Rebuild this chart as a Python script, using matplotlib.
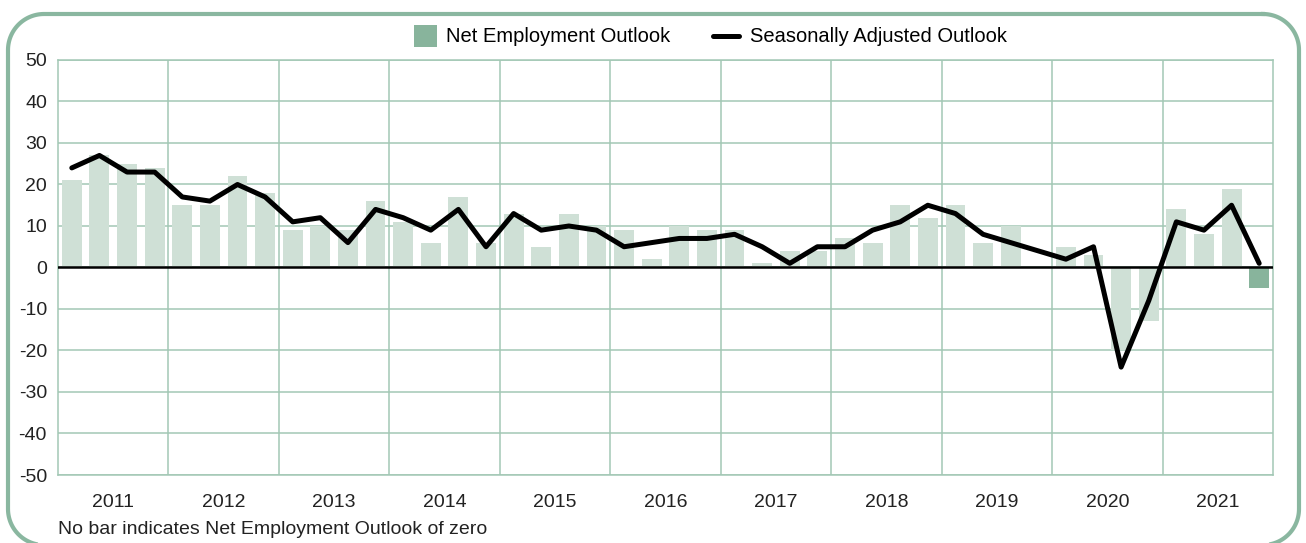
import matplotlib
matplotlib.use("Agg")
import matplotlib.pyplot as plt
from matplotlib.patches import Rectangle
from matplotlib.lines import Line2D
import numpy as np

plt.rcParams['font.family'] = ['Liberation Sans', 'DejaVu Sans']

years = ['2011', '2012', '2013', '2014', '2015', '2016', '2017', '2018', '2019', '2020', '2021']
net_outlook = [21, 27, 25, 24, 15, 15, 22, 18, 9, 10, 9, 16,
               11, 6, 17, 6, 13, 5, 13, 10, 9, 2, 10, 9,
               9, 1, 4, 4, 7, 6, 15, 12, 15, 6, 10, 0,
               5, 3, -20, -13, 14, 8, 19, -5]
seasonal = [24, 27, 23, 23, 17, 16, 20, 17, 11, 12, 6, 14,
            12, 9, 14, 5, 13, 9, 10, 9, 5, 6, 7, 7,
            8, 5, 1, 5, 5, 9, 11, 15, 13, 8, 6, 4,
            2, 5, -24, -8, 11, 9, 15, 1]
y_ticks = [50, 40, 30, 20, 10, 0, -10, -20, -30, -40, -50]

LIGHT = '#cfe0d6'
DARK = '#88b49c'
GRID = '#a3c8b5'
TEXT = '#222222'

W, H = 1306, 543
fig = plt.figure(figsize=(W / 100, H / 100), dpi=100)

# background axes in pixel coordinates for the rounded border
bg = fig.add_axes([0, 0, 1, 1])
bg.set_xlim(0, W)
bg.set_ylim(H, 0)
bg.axis('off')


def rounded_rect(x0, y0, x1, y1, r, npts=30):
    pts = []
    corners = [((x1 - r, y0 + r), -90, 0),   # top-right
               ((x1 - r, y1 - r), 0, 90),    # bottom-right
               ((x0 + r, y1 - r), 90, 180),  # bottom-left
               ((x0 + r, y0 + r), 180, 270)]  # top-left
    for (cx, cy), a0, a1 in corners:
        t = np.radians(np.linspace(a0, a1, npts))
        pts.extend(zip(cx + r * np.cos(t), cy + r * np.sin(t)))
    pts.append(pts[0])
    return np.array(pts)


bpts = rounded_rect(8, 14, 1299, 545, 36)
bg.plot(bpts[:, 0], bpts[:, 1], color='#8ab7a0', linewidth=3.0, clip_on=False,
        solid_joinstyle='round')

ax = fig.add_axes([58 / W, 1 - 475 / H, (1273 - 58) / W, (475 - 60) / H])
n = len(net_outlook)
x = np.arange(n)
colors = [LIGHT] * (n - 1) + [DARK]
ax.bar(x, net_outlook, width=0.72, color=colors, zorder=2)
ax.plot(x, seasonal, color='black', linewidth=3.6, solid_joinstyle='round',
        solid_capstyle='round', zorder=4)
ax.axhline(0, color='black', linewidth=1.8, zorder=3)

ax.set_xlim(-0.5, n - 0.5)
ax.set_ylim(-50, 50)
ax.set_yticks(y_ticks)
ax.set_yticklabels([str(v) for v in y_ticks])
ax.set_xticks([1.5 + 4 * k for k in range(len(years))])
ax.set_xticklabels(years)
ax.set_xticks([-0.5 + 4 * k for k in range(1, len(years))], minor=True)
ax.tick_params(axis='both', which='both', length=0, labelsize=14, colors=TEXT)
ax.tick_params(axis='y', pad=8)
ax.tick_params(axis='x', pad=14)
ax.grid(axis='y', which='major', color=GRID, linewidth=1.1, zorder=0)
ax.grid(axis='x', which='minor', color=GRID, linewidth=1.1, zorder=0)
ax.grid(axis='x', which='major', visible=False)
ax.set_axisbelow(True)
for s in ax.spines.values():
    s.set_color(GRID)
    s.set_linewidth(1.1)

# legend
bg.add_patch(Rectangle((414, 25), 23, 22, facecolor=DARK, edgecolor='none'))
bg.text(446, 36, 'Net Employment Outlook', fontsize=14.5, color='black', va='center', ha='left')
bg.add_line(Line2D([713, 739], [36, 36], color='black', linewidth=3.6, solid_capstyle='round'))
bg.text(750, 36, 'Seasonally Adjusted Outlook', fontsize=14.5, color='black', va='center', ha='left')

bg.text(58, 529, 'No bar indicates Net Employment Outlook of zero', fontsize=14,
        color=TEXT, va='center', ha='left')

fig.savefig('out.png', dpi=100)
